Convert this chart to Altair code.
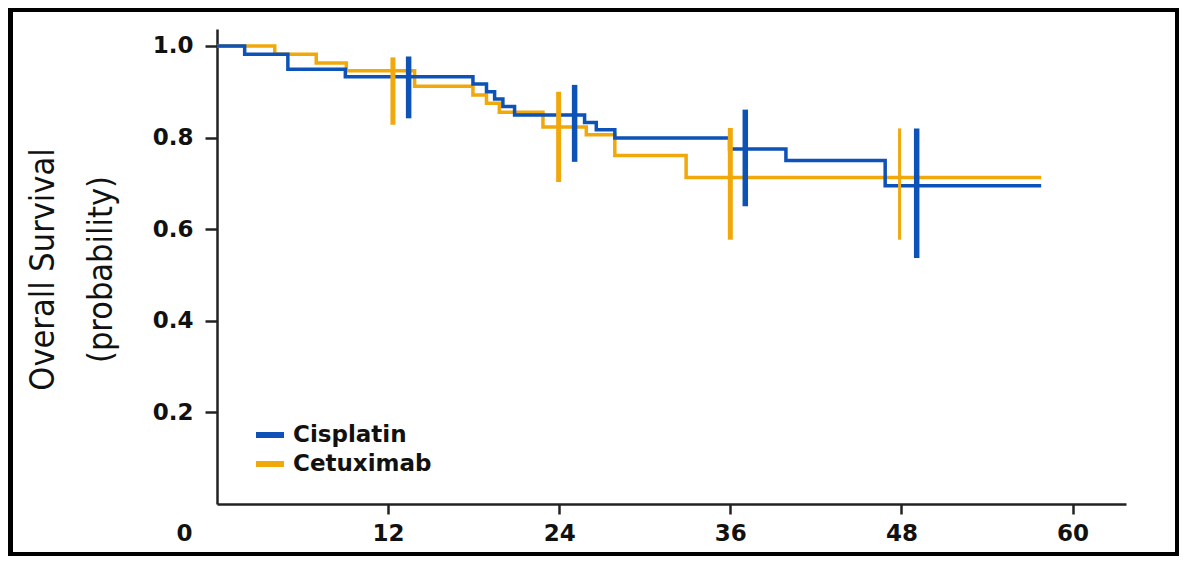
import altair as alt
import pandas as pd

# ---- data ----
arms = ["Cisplatin", "Cetuximab"]
arm_colors = ["#0d52b6", "#f1a80a"]

cis_months = [0, 1.94, 4.97, 9.0, 17.95, 18.9, 19.47, 20.05, 20.87, 25.78, 26.6, 27.9, 35.95, 39.9, 46.86, 57.8]
cis_surv = [1.0, 0.982, 0.949, 0.933, 0.917, 0.900, 0.884, 0.868, 0.849, 0.833, 0.817, 0.799, 0.775, 0.750, 0.695, 0.695]

cet_months = [0, 4.05, 6.96, 9.07, 13.86, 17.95, 18.9, 19.8, 22.86, 25.9, 27.9, 32.9, 57.8]
cet_surv = [1.0, 0.982, 0.963, 0.946, 0.912, 0.893, 0.875, 0.855, 0.823, 0.806, 0.761, 0.713, 0.713]

ci_arm = ["Cetuximab", "Cisplatin", "Cetuximab", "Cisplatin", "Cetuximab", "Cisplatin", "Cetuximab", "Cisplatin"]
ci_months = [12.34, 13.44, 23.96, 25.08, 36.0, 37.05, 47.87, 49.07]
ci_low = [0.828, 0.842, 0.703, 0.747, 0.577, 0.650, 0.577, 0.537]
ci_high = [0.975, 0.977, 0.900, 0.915, 0.821, 0.861, 0.820, 0.820]

x_ticks = [0, 12, 24, 36, 48, 60]
y_ticks = [0.2, 0.4, 0.6, 0.8, 1.0]
y_title = ["Overall Survival", "(probability)"]

curves = pd.DataFrame({
    "arm": ["Cisplatin"] * len(cis_months) + ["Cetuximab"] * len(cet_months),
    "month": cis_months + cet_months,
    "surv": cis_surv + cet_surv,
})
cis_df = pd.DataFrame({
    "arm": ci_arm, "month": ci_months, "lo": ci_low, "hi": ci_high,
})

tick_font = "DejaVu Sans"
title_font = "DejaVu Sans Condensed"

x_enc = alt.X(
    "month:Q",
    scale=alt.Scale(domain=[0, 63.75], nice=False, zero=False),
    axis=alt.Axis(
        values=x_ticks, title=None, grid=False, format="d", labelFlush=False,
        labelFont=tick_font, labelFontSize=23, labelFontWeight="bold",
        labelColor="#111111", labelPadding=8,
        labelOffset={"condition": {"test": "datum.value === 0", "value": -33}, "value": 0},
        tickOpacity={"condition": {"test": "datum.value === 0", "value": 0}, "value": 1},
        tickSize=10, tickWidth=2.5, tickColor="#222222",
        domainWidth=2.5, domainColor="#222222",
    ),
)
y_scale = alt.Scale(domain=[0, 1.037], nice=False, zero=False)
y_axis = alt.Axis(
    values=y_ticks, format=".1f", grid=False, title=y_title, labelFlush=False,
    labelFont=tick_font, labelFontSize=23, labelFontWeight="bold",
    labelColor="#111111", labelPadding=12,
    tickSize=12, tickWidth=2.5, tickColor="#222222",
    domainWidth=2.5, domainColor="#222222",
    titleFont=title_font, titleFontSize=34, titleFontWeight="normal",
    titleColor="#111111", titleAngle=270, titleAlign="center",
    titleBaseline="middle", titleLineHeight=58, titleX=-174, titleY=240,
)
color_enc = alt.Color(
    "arm:N",
    scale=alt.Scale(domain=arms, range=arm_colors),
    legend=alt.Legend(
        title=None, orient="none", legendX=36, legendY=389, padding=0,
        symbolType="stroke", symbolSize=784, symbolStrokeWidth=6,
        labelFont=tick_font, labelFontSize=23, labelFontWeight="bold",
        labelColor="#111111", labelOffset=6, rowPadding=0,
    ),
)

base = alt.Chart(curves)
cet_line = base.transform_filter(alt.datum.arm == "Cetuximab").mark_line(
    interpolate="step-after", strokeWidth=3.5
).encode(x=x_enc, y=alt.Y("surv:Q", scale=y_scale, axis=y_axis), color=color_enc)
cis_line = base.transform_filter(alt.datum.arm == "Cisplatin").mark_line(
    interpolate="step-after", strokeWidth=3.5
).encode(x=x_enc, y=alt.Y("surv:Q", scale=y_scale, axis=y_axis), color=color_enc)

ci_base = alt.Chart(cis_df)
cet_ci = ci_base.transform_filter(alt.datum.arm == "Cetuximab").mark_rule().encode(
    x=x_enc, y=alt.Y("lo:Q", scale=y_scale, axis=y_axis), y2="hi:Q", color=color_enc,
    strokeWidth=alt.condition("datum.month > 45", alt.value(3), alt.value(5)),
)
cis_ci = ci_base.transform_filter(alt.datum.arm == "Cisplatin").mark_rule(strokeWidth=5.5).encode(
    x=x_enc, y=alt.Y("lo:Q", scale=y_scale, axis=y_axis), y2="hi:Q", color=color_enc,
)

frame = alt.Chart(pd.DataFrame({"f": [0]})).mark_rect(
    filled=False, stroke="black", strokeWidth=8, clip=False
).encode(
    x=alt.value(-208), x2=alt.value(962), y=alt.value(-21), y2=alt.value(527)
)

chart = alt.layer(cet_line, cis_line, cet_ci, cis_ci, frame).properties(
    width=909, height=475,
    padding={"left": 209, "top": 21, "right": 53, "bottom": 52},
    autosize=alt.AutoSizeParams(type="none"),
    background="white",
).configure_view(stroke=None)

chart.save("out.html", embed_options={"renderer": "svg", "actions": False})
